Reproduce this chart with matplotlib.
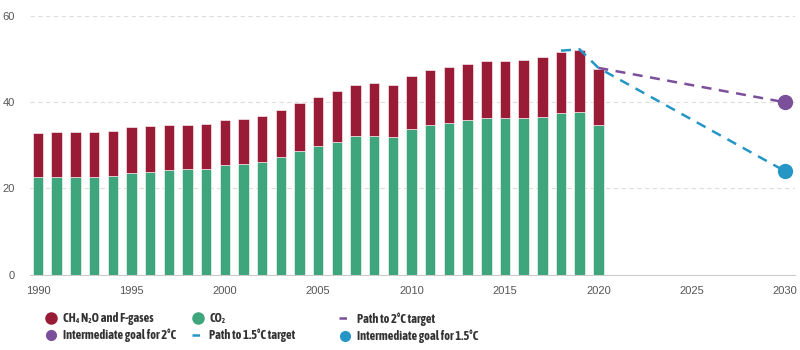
import matplotlib
matplotlib.use('Agg')
import matplotlib.pyplot as plt
from matplotlib.lines import Line2D

# emissions, Gt CO2-eq
years = list(range(1990, 2021))
co2 = [22.6, 22.6, 22.6, 22.6, 22.8, 23.5, 23.9, 24.3, 24.4, 24.6,
       25.5, 25.7, 26.2, 27.4, 28.8, 29.9, 30.8, 32.2, 32.2, 32.0,
       33.8, 34.7, 35.1, 35.9, 36.3, 36.3, 36.3, 36.7, 37.4, 37.7, 34.7]
total = [32.8, 33.0, 33.0, 33.0, 33.3, 34.2, 34.6, 34.8, 34.8, 35.0,
         36.0, 36.2, 36.9, 38.3, 39.8, 41.2, 42.6, 44.0, 44.4, 44.0,
         46.2, 47.6, 48.3, 49.0, 49.5, 49.7, 49.9, 50.5, 51.6, 52.1, 47.8]
other = [t - c for t, c in zip(total, co2)]

path2_years = [2020, 2030]
path2_vals = [48.0, 40.0]
path15_years = [2018, 2019, 2020, 2030]
path15_vals = [52.0, 52.3, 48.0, 24.0]

red = '#9a1b35'
green = '#3fa57c'
purple = '#7b4f9a'
blue = '#2596c6'

fig = plt.figure(figsize=(8, 3.5), dpi=100)
ax = fig.add_axes([0.0375, 0.2157, 0.9565, 0.738])

ax.bar(years, co2, width=0.56, color=green, edgecolor='white', linewidth=0.4, zorder=2)
ax.bar(years, other, bottom=co2, width=0.56, color=red, edgecolor='white', linewidth=0.4, zorder=2)

ax.plot(path2_years, path2_vals, color=purple, lw=1.8, dashes=(4, 3), zorder=3)
ax.plot(path15_years, path15_vals, color=blue, lw=1.8, dashes=(4, 3), zorder=3)
ax.plot([2030], [40], 'o', color=purple, ms=10, zorder=4)
ax.plot([2030], [24], 'o', color=blue, ms=10, zorder=4)

ax.set_xlim(1989.57, 2030.54)
ax.set_ylim(0, 60)
ax.set_xticks(range(1990, 2031, 5))
ax.set_yticks([0, 20, 40, 60])
ax.yaxis.grid(True, color='#dddddd', linestyle=(0, (4, 3)), linewidth=0.8)
ax.set_axisbelow(True)
for s in ['top', 'right', 'left']:
    ax.spines[s].set_visible(False)
ax.spines['bottom'].set_color('#cccccc')
ax.tick_params(axis='both', length=0, labelsize=8, labelcolor='#555555')
ax.tick_params(axis='y', pad=11)
ax.tick_params(axis='x', pad=8)
for lab in ax.get_xticklabels() + ax.get_yticklabels():
    lab.set_family(['Liberation Sans', 'DejaVu Sans'])

font = {'family': ['Asap Condensed', 'DejaVu Sans'], 'weight': 700, 'size': 8.9}

def dot(c, ms):
    return Line2D([], [], marker='o', ls='none', color=c, ms=ms)

def dash(c):
    return Line2D([], [], color=c, lw=1.8, ls=(0, (3, 2, 1, 2)))

columns = [
    ([dot(red, 8), dot(purple, 7)], ['CH\u2084 N\u2082O and F-gases', 'Intermediate goal for 2\u00b0C'], 0.057),
    ([dot(green, 8), dash(blue)], ['CO\u2082', 'Path to 1.5\u00b0C target'], 0.240),
    ([dash(purple), dot(blue, 7)], ['Path to 2\u00b0C target', 'Intermediate goal for 1.5\u00b0C'], 0.424),
]
for handles, labels, x in columns:
    leg = fig.legend(handles, labels, loc='upper left', bbox_to_anchor=(x, 0.108),
                     frameon=False, prop=font, handlelength=0.9, handletextpad=0.5,
                     labelspacing=0.3, borderaxespad=0, borderpad=0)
    for t in leg.get_texts():
        t.set_color('#333333')

fig.savefig('out.png', dpi=100)
